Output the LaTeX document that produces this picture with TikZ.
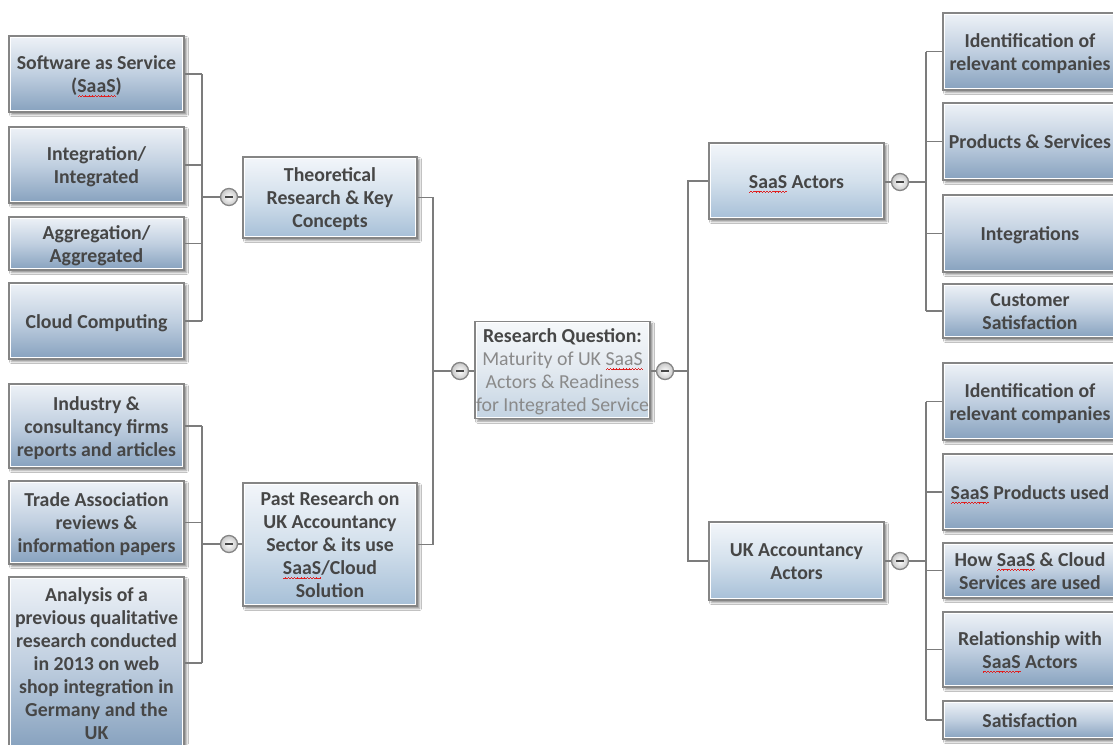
\documentclass[tikz,border=0pt]{standalone}
\usepackage{fontspec}
\setmainfont{Carlito}
\usetikzlibrary{shadows.blur}

\definecolor{ink}{HTML}{464646}
\definecolor{qgray}{HTML}{8A8A8A}
\definecolor{boxline}{HTML}{858585}
\definecolor{connline}{HTML}{7C7C7C}
\definecolor{spellred}{HTML}{E02020}
\definecolor{leafT}{HTML}{EEF2F7}
\definecolor{leafM}{HTML}{C0CFE0}
\definecolor{leafB}{HTML}{86A1BE}
\definecolor{midT}{HTML}{F3F6FA}
\definecolor{midM}{HTML}{D3E0EC}
\definecolor{midB}{HTML}{A6BFD7}
\definecolor{rootT}{HTML}{F6F8FA}
\definecolor{rootM}{HTML}{E2E9F0}
\definecolor{rootB}{HTML}{C3D3E2}

% red wavy spell-check underline, built from tiny rules
\newsavebox\spellbox
\newcommand\wavecell{\rule[-4.4pt]{0.75pt}{0.8pt}\rule[-3.8pt]{0.75pt}{0.8pt}\rule[-3.2pt]{0.75pt}{0.8pt}\rule[-3.8pt]{0.75pt}{0.8pt}}
\newcommand\spell[1]{\sbox\spellbox{#1}\rlap{\hbox to \wd\spellbox{\color{spellred}\xleaders\hbox{\wavecell}\hfill}}\usebox\spellbox}
\newcommand\qt[1]{{\mdseries\color{qgray}#1}}

% one topic box: style, name, centre x, centre y, width, height, text
% (struts on the first and last line keep the text block placement uniform)
\newcommand\topicbox[7]{\node[#1, minimum width=#5pt, minimum height=#6pt] (#2) at (#3,#4)
  {\rule{0pt}{20.5pt}#7\rule[-6pt]{0pt}{0pt}};}

\tikzset{
  boxbase/.style={rectangle, draw=boxline, line width=1.3pt, align=center,
    text=ink, font=\fontsize{19.8}{23}\selectfont\bfseries, inner sep=1pt,
    blur shadow={shadow xshift=2.5pt, shadow yshift=-2.5pt, shadow blur radius=2pt, shadow opacity=45},
    path picture={\draw[white, line width=4pt] (path picture bounding box.south west) rectangle (path picture bounding box.north east);}},
  leaf/.style={boxbase, top color=leafT, bottom color=leafB, middle color=leafM},
  mid/.style={boxbase, top color=midT, bottom color=midB, middle color=midM},
  rootbox/.style={boxbase, top color=rootT, bottom color=rootB, middle color=rootM},
  ctrl/.style={circle, draw=boxline, line width=1.3pt, minimum size=17pt, inner sep=0pt,
    inner color=white, outer color=black!22,
    path picture={\draw[ink, line width=2.4pt] ([xshift=-3.8pt]path picture bounding box.center) -- ([xshift=3.8pt]path picture bounding box.center);}},
  conn/.style={draw=connline, line width=1.3pt},
}

\begin{document}
\begin{tikzpicture}[x=1pt, y=-1pt]
\clip (0,0) rectangle (1113,744);
\fill[white] (0,0) rectangle (1113,744);

% ---- left leaves, upper group
\topicbox{leaf}{s1}{96.5}{74}{175}{76}{Software as Service\\(\spell{SaaS})}
\topicbox{leaf}{s2}{96.5}{165}{175}{76}{Integration/\\Integrated}
\topicbox{leaf}{s3}{96.5}{243.5}{175}{53}{Aggregation/\\Aggregated}
\topicbox{leaf}{s4}{96.5}{321}{175}{76}{Cloud Computing}

% ---- left leaves, lower group
\topicbox{leaf}{s5}{96.5}{426}{175}{84}{Industry \&\\consultancy firms\\reports and articles}
\topicbox{leaf}{s6}{96.5}{522.5}{175}{83}{Trade Association\\reviews \&\\information papers}
\topicbox{leaf}{s7}{96.5}{663}{175}{172}{Analysis of a\\previous qualitative\\research conducted\\in 2013 on web\\shop integration in\\Germany and the\\UK}

% ---- left branch topics
\topicbox{mid}{t1}{330}{197.5}{174}{81}{Theoretical\\Research \& Key\\Concepts}
\topicbox{mid}{t2}{330}{544.5}{174}{123}{Past Research on\\UK Accountancy\\Sector \& its use\\\spell{SaaS}/Cloud\\Solution}

% ---- central question
\topicbox{rootbox}{q}{562.5}{370}{175}{96}{Research Question:\\\qt{Maturity of UK \spell{SaaS}}\\\qt{Actors \& Readiness}\\\qt{for Integrated Service}}

% ---- right branch topics
\topicbox{mid}{r1}{796.5}{181}{175}{76}{\spell{SaaS} Actors}
\topicbox{mid}{r2}{796.5}{561}{175}{78}{UK Accountancy\\Actors}

% ---- right leaves, SaaS actors
\topicbox{leaf}{a1}{1030}{51.5}{174}{77}{Identification of\\relevant companies}
\topicbox{leaf}{a2}{1030}{141.5}{174}{77}{Products \& Services}
\topicbox{leaf}{a3}{1030}{233.5}{174}{77}{Integrations}
\topicbox{leaf}{a4}{1030}{311}{174}{54}{Customer\\Satisfaction}

% ---- right leaves, UK accountancy actors
\topicbox{leaf}{b1}{1030}{401.5}{174}{77}{Identification of\\relevant companies}
\topicbox{leaf}{b2}{1030}{492}{174}{76}{\spell{SaaS} Products used}
\topicbox{leaf}{b3}{1030}{570.5}{174}{55}{How \spell{SaaS} \& Cloud\\Services are used}
\topicbox{leaf}{b4}{1030}{649.5}{174}{75}{Relationship with\\\spell{SaaS} Actors}
\topicbox{leaf}{b5}{1030}{720}{174}{38}{Satisfaction}

% ---- collapse buttons
\node[ctrl] (c1) at (229,197) {};
\node[ctrl] (c2) at (229,544) {};
\node[ctrl] (cl) at (460,371) {};
\node[ctrl] (cr) at (665,371) {};
\node[ctrl] (c3) at (900,182) {};
\node[ctrl] (c4) at (900,561) {};

% ---- junction points
\coordinate (j1) at (202,197);
\coordinate (j2) at (202,544);
\coordinate (jl) at (433,371);
\coordinate (jr) at (688,371);
\coordinate (j3) at (926,182);
\coordinate (j4) at (926,561);

% ---- connectors
\foreach \n in {s1,s2,s3,s4} \draw[conn] (\n.east) -- (\n.east -| j1);
\draw[conn] (s1.east -| j1) -- (s4.east -| j1);
\draw[conn] (j1) -- (c1.west);
\draw[conn] (c1.east) -- (c1.east -| t1.west);

\foreach \n in {s5,s6,s7} \draw[conn] (\n.east) -- (\n.east -| j2);
\draw[conn] (s5.east -| j2) -- (s7.east -| j2);
\draw[conn] (j2) -- (c2.west);
\draw[conn] (c2.east) -- (c2.east -| t2.west);

\draw[conn] (t1.east) -- (t1.east -| jl) -- (t2.east -| jl) -- (t2.east);
\draw[conn] (jl) -- (cl.west);
\draw[conn] (cl.east) -- (cl.east -| q.west);

\draw[conn] (q.east |- cr) -- (cr.west);
\draw[conn] (cr.east) -- (jr);
\draw[conn] (r1.west) -- (r1.west -| jr) -- (r2.west -| jr) -- (r2.west);

\draw[conn] (r1.east |- c3) -- (c3.west);
\draw[conn] (c3.east) -- (j3);
\foreach \n in {a1,a2,a3,a4} \draw[conn] (\n.west) -- (\n.west -| j3);
\draw[conn] (a1.west -| j3) -- (a4.west -| j3);

\draw[conn] (r2.east |- c4) -- (c4.west);
\draw[conn] (c4.east) -- (j4);
\foreach \n in {b1,b2,b3,b4,b5} \draw[conn] (\n.west) -- (\n.west -| j4);
\draw[conn] (b1.west -| j4) -- (b5.west -| j4);
\end{tikzpicture}
\end{document}
